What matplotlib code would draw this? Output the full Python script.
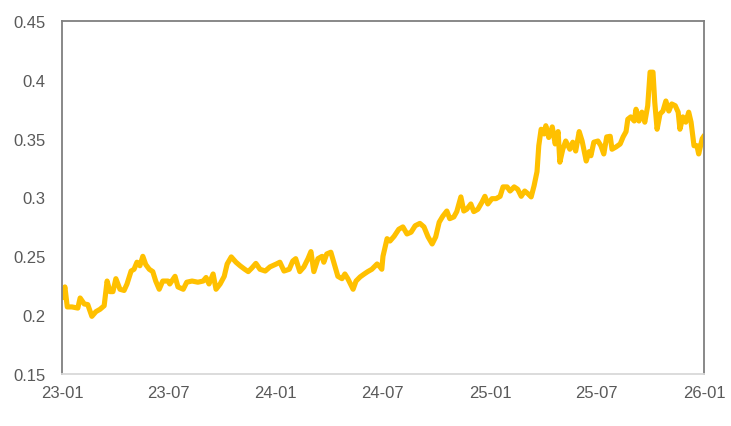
import pandas as pd
import matplotlib
matplotlib.use("Agg")
import matplotlib.pyplot as plt
import matplotlib.dates as mdates

# values (approximate)
dates = [
    "2023-01-01", "2023-01-06", "2023-01-10", "2023-01-18", "2023-01-28", "2023-02-01", "2023-02-08",
    "2023-02-14", "2023-02-21", "2023-02-28", "2023-03-07", "2023-03-14", "2023-03-19", "2023-03-24",
    "2023-03-29", "2023-04-03", "2023-04-10", "2023-04-17", "2023-04-22", "2023-04-29", "2023-05-04",
    "2023-05-09", "2023-05-14", "2023-05-19", "2023-05-24", "2023-05-30", "2023-06-05", "2023-06-10",
    "2023-06-16", "2023-06-22", "2023-07-01", "2023-07-04", "2023-07-13", "2023-07-18", "2023-07-27",
    "2023-08-02", "2023-08-11", "2023-08-21", "2023-08-30", "2023-09-04", "2023-09-09", "2023-09-16",
    "2023-09-21", "2023-09-28", "2023-10-05", "2023-10-10", "2023-10-17", "2023-10-25", "2023-11-01",
    "2023-11-09", "2023-11-15", "2023-11-21", "2023-11-28", "2023-12-05", "2023-12-14", "2023-12-22",
    "2024-01-02", "2024-01-08", "2024-01-15", "2024-01-24", "2024-01-30", "2024-02-04", "2024-02-11",
    "2024-02-18", "2024-02-25", "2024-03-01", "2024-03-06", "2024-03-13", "2024-03-20", "2024-03-23",
    "2024-03-28", "2024-04-04", "2024-04-09", "2024-04-16", "2024-04-23", "2024-04-28", "2024-05-03",
    "2024-05-12", "2024-05-17", "2024-05-24", "2024-05-31", "2024-06-06", "2024-06-13", "2024-06-22",
    "2024-06-27", "2024-06-30", "2024-07-02", "2024-07-09", "2024-07-14", "2024-07-21", "2024-07-29",
    "2024-08-05", "2024-08-12", "2024-08-19", "2024-08-26", "2024-09-03", "2024-09-10", "2024-09-17",
    "2024-09-24", "2024-09-30", "2024-10-06", "2024-10-12", "2024-10-19", "2024-10-24", "2024-10-31",
    "2024-11-05", "2024-11-12", "2024-11-17", "2024-11-22", "2024-11-29", "2024-12-04", "2024-12-11",
    "2024-12-18", "2024-12-23", "2024-12-28", "2025-01-04", "2025-01-11", "2025-01-18", "2025-01-23",
    "2025-01-30", "2025-02-04", "2025-02-11", "2025-02-17", "2025-02-23", "2025-03-01", "2025-03-07",
    "2025-03-12", "2025-03-17", "2025-03-22", "2025-03-25", "2025-03-29", "2025-04-03", "2025-04-06",
    "2025-04-11", "2025-04-17", "2025-04-22", "2025-04-27", "2025-04-30", "2025-05-05", "2025-05-10",
    "2025-05-17", "2025-05-22", "2025-05-27", "2025-06-02", "2025-06-07", "2025-06-14", "2025-06-19",
    "2025-06-22", "2025-06-27", "2025-07-04", "2025-07-09", "2025-07-14", "2025-07-19", "2025-07-25",
    "2025-07-28", "2025-08-04", "2025-08-11", "2025-08-16", "2025-08-21", "2025-08-24", "2025-08-29",
    "2025-09-04", "2025-09-07", "2025-09-12", "2025-09-17", "2025-09-22", "2025-09-27", "2025-10-01",
    "2025-10-06", "2025-10-09", "2025-10-13", "2025-10-18", "2025-10-23", "2025-10-28", "2025-11-02",
    "2025-11-07", "2025-11-13", "2025-11-18", "2025-11-21", "2025-11-26", "2025-12-01", "2025-12-06",
    "2025-12-10", "2025-12-15", "2025-12-20", "2025-12-23", "2025-12-29", "2025-12-31",
]
values = [
    0.2155, 0.224, 0.207, 0.207, 0.206, 0.2146, 0.2095,
    0.209, 0.199, 0.203, 0.205, 0.208, 0.229, 0.220,
    0.220, 0.231, 0.222, 0.221, 0.2265, 0.2375, 0.239,
    0.245, 0.242, 0.250, 0.243, 0.239, 0.237, 0.229,
    0.222, 0.229, 0.229, 0.2265, 0.233, 0.224, 0.222,
    0.228, 0.229, 0.228, 0.229, 0.232, 0.2265, 0.235,
    0.222, 0.2265, 0.233, 0.2435, 0.2495, 0.245, 0.242,
    0.239, 0.237, 0.240, 0.244, 0.239, 0.2375, 0.241,
    0.2435, 0.245, 0.2375, 0.239, 0.246, 0.248, 0.237,
    0.241, 0.248, 0.254, 0.237, 0.248, 0.250, 0.245,
    0.252, 0.2535, 0.245, 0.233, 0.231, 0.235, 0.231,
    0.222, 0.229, 0.2325, 0.235, 0.237, 0.239, 0.2435,
    0.241, 0.239, 0.250, 0.265, 0.263, 0.267, 0.273,
    0.275, 0.269, 0.2705, 0.276, 0.278, 0.275, 0.2665,
    0.2605, 0.2665, 0.279, 0.284, 0.2885, 0.282, 0.2835,
    0.288, 0.3005, 0.2885, 0.290, 0.2945, 0.288, 0.290,
    0.296, 0.301, 0.2945, 0.299, 0.299, 0.301, 0.309,
    0.309, 0.3055, 0.309, 0.307, 0.301, 0.3055, 0.303,
    0.3005, 0.310, 0.322, 0.344, 0.358, 0.354, 0.361,
    0.351, 0.360, 0.3455, 0.356, 0.330, 0.341, 0.348,
    0.341, 0.347, 0.3395, 0.356, 0.348, 0.331, 0.339,
    0.3355, 0.347, 0.348, 0.344, 0.337, 0.3515, 0.352,
    0.341, 0.343, 0.3455, 0.3515, 0.356, 0.3665, 0.3685,
    0.365, 0.375, 0.365, 0.3725, 0.364, 0.378, 0.4065,
    0.4065, 0.381, 0.358, 0.371, 0.3735, 0.382, 0.3735,
    0.3795, 0.378, 0.3725, 0.358, 0.3685, 0.364, 0.3725,
    0.364, 0.344, 0.344, 0.337, 0.350, 0.3515,
]

x_ticks = ["2023-01-01", "2023-07-01", "2024-01-01", "2024-07-01", "2025-01-01", "2025-07-01", "2026-01-01"]
y_ticks = [0.15, 0.2, 0.25, 0.3, 0.35, 0.4, 0.45]
y_labels = ["0.15", "0.2", "0.25", "0.3", "0.35", "0.4", "0.45"]

plt.rcParams["font.family"] = ["Liberation Sans", "DejaVu Sans"]

fig = plt.figure(figsize=(7.31, 4.27), dpi=100)
ax = fig.add_axes([0.0848, 0.1218, 0.8782, 0.8267])

ax.plot(pd.to_datetime(dates), values, color="#FFC000", lw=3.7, solid_joinstyle="round")

ax.set_xlim(pd.Timestamp("2023-01-01"), pd.Timestamp("2026-01-01"))
ax.set_ylim(0.15, 0.45)
ax.set_xticks(pd.to_datetime(x_ticks))
ax.xaxis.set_major_formatter(mdates.DateFormatter("%y-%m"))
ax.set_yticks(y_ticks)
ax.set_yticklabels(y_labels)

ax.tick_params(axis="both", length=0, labelsize=12, labelcolor="#595959")
ax.tick_params(axis="y", pad=12)
ax.tick_params(axis="x", pad=8)

for s in ["left", "right", "top"]:
    ax.spines[s].set_color("#7F7F7F")
    ax.spines[s].set_linewidth(1.3)
ax.spines["bottom"].set_color("#D9D9D9")
ax.spines["bottom"].set_linewidth(1.3)

fig.savefig("out.png", dpi=100)
